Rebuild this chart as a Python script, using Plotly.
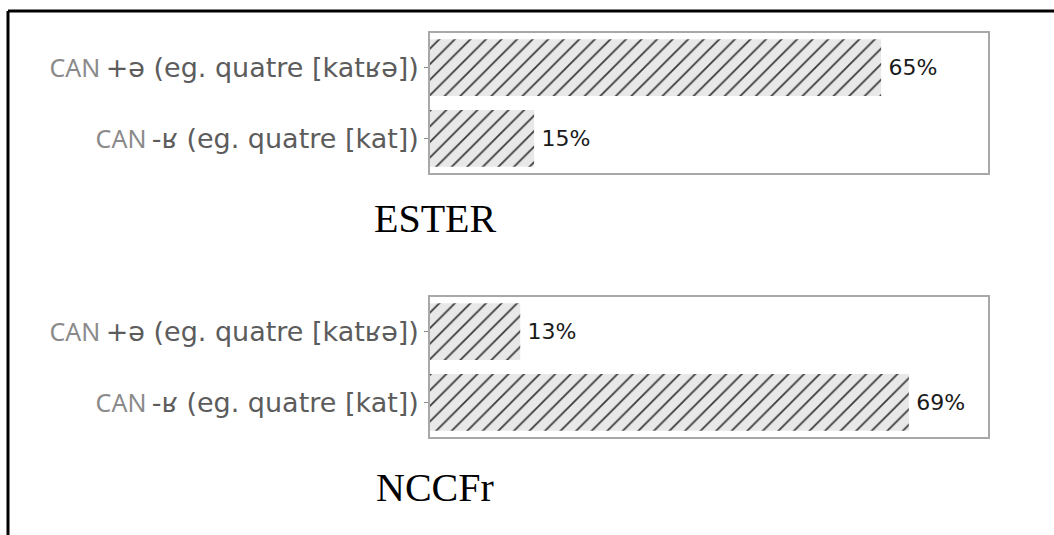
import plotly.graph_objects as go

# Categories (rows of each panel, top to bottom)
categories = ["CAN +ə (eg. quatre [katʁə])", "CAN -ʁ (eg. quatre [kat])"]
cat_prefix = ["CAN", "CAN"]
cat_rest = ["+ə (eg. quatre [katʁə])", "-ʁ (eg. quatre [kat])"]

# Percentages per corpus
ester_values = [65, 15]
nccfr_values = [13, 69]
corpus_names = ["ESTER", "NCCFr"]

W, H = 1054, 535

tick_text = [
    f"<span style='font-family:Noto Sans;font-size:25px;color:#8a8a8a'>{p}</span>\u2009{r}"
    for p, r in zip(cat_prefix, cat_rest)
]

hatch = dict(shape="/", fgcolor="#3a3a3a", fgopacity=1, bgcolor="#e8e8e8",
             size=11, solidity=0.16, fillmode="replace")

fig = go.Figure()
for i, vals in enumerate([ester_values, nccfr_values]):
    suffix = "" if i == 0 else str(i + 1)
    fig.add_trace(go.Bar(
        x=vals, y=categories, orientation="h",
        xaxis="x" + suffix, yaxis="y" + suffix,
        marker=dict(color="#e8e8e8", line=dict(width=0), pattern=hatch),
        text=[f"\u2009{v}%" for v in vals], textposition="outside",
        textfont=dict(family="DejaVu Sans", size=22, color="#1a1a1a"),
        constraintext="none", cliponaxis=False, showlegend=False,
    ))

def px_x(a, b):
    return [a / W, b / W]

def px_y(top, bottom):
    return [(H - bottom) / H, (H - top) / H]

axis_line = dict(showline=True, mirror=True, linecolor="#a8a8a8", linewidth=1.5)
xcommon = dict(range=[0, 80.4], showticklabels=False, ticks="", showgrid=False,
               zeroline=False, fixedrange=True, **axis_line)
ycommon = dict(type="category", categoryorder="array", categoryarray=categories,
               range=[1.49, -0.49], tickvals=categories, ticktext=tick_text,
               ticks="outside", ticklen=4, tickcolor="#888888", tickwidth=1,
               tickfont=dict(family="DejaVu Sans", size=27, color="#5c5c5c"),
               showgrid=False, zeroline=False, **axis_line)

fig.update_layout(
    width=W, height=H,
    margin=dict(l=0, r=0, t=0, b=0),
    paper_bgcolor="white", plot_bgcolor="white",
    bargap=0.2,
    xaxis=dict(domain=px_x(430, 988), anchor="y", **xcommon),
    yaxis=dict(domain=px_y(33, 173), anchor="x", **ycommon),
    xaxis2=dict(domain=px_x(430, 988), anchor="y2", **xcommon),
    yaxis2=dict(domain=px_y(297, 437), anchor="x2", **ycommon),
)

# Corpus titles under each panel
for name, yc in zip(corpus_names, [218, 487]):
    fig.add_annotation(
        text=name, xref="paper", yref="paper",
        x=435 / W, y=(H - yc) / H, xanchor="center", yanchor="middle",
        showarrow=False,
        font=dict(family="Liberation Serif", size=40, color="black"),
    )

# Black frame along the top and left edges
fig.add_shape(type="line", xref="paper", yref="paper",
              x0=8 / W, x1=1.0, y0=(H - 11) / H, y1=(H - 11) / H,
              line=dict(color="black", width=3))
fig.add_shape(type="line", xref="paper", yref="paper",
              x0=8 / W, x1=8 / W, y0=(H - 11) / H, y1=0,
              line=dict(color="black", width=3))

fig.write_html("out.html")
